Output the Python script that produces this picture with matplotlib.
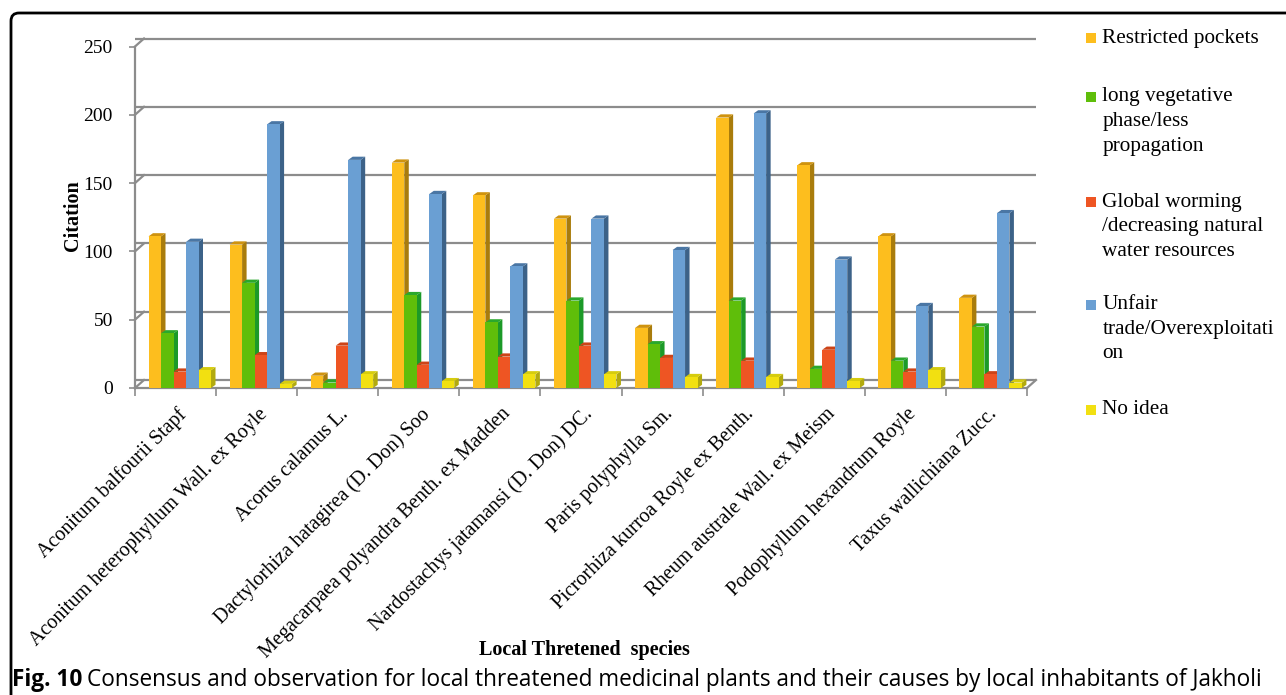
import matplotlib
matplotlib.use("Agg")
import matplotlib.pyplot as plt
from matplotlib.patches import Polygon, Rectangle, PathPatch
from matplotlib.path import Path

# ---- data -------------------------------------------------------------
species = [
    "Aconitum balfourii Stapf",
    "Aconitum heterophyllum Wall. ex Royle",
    "Acorus calamus L.",
    "Dactylorhiza hatagirea (D. Don) Soo",
    "Megacarpaea polyandra Benth. ex Madden",
    "Nardostachys jatamansi (D. Don) DC.",
    "Paris polyphylla Sm.",
    "Picrorhiza kurroa Royle ex Benth.",
    "Rheum australe Wall. ex Meism",
    "Podophyllum hexandrum Royle",
    "Taxus wallichiana Zucc.",
]

restricted_pockets = [111, 105, 9, 165, 141, 124, 44, 198, 163, 111, 66]
long_vegetative = [40, 77, 4, 68, 48, 64, 32, 64, 14, 20, 45]
global_warming = [12, 24, 31, 17, 23, 31, 22, 20, 28, 12, 10]
unfair_trade = [107, 193, 167, 142, 89, 124, 101, 201, 94, 60, 128]
no_idea = [13, 3, 10, 5, 10, 10, 8, 8, 5, 13, 4]

legend_lines = [
    ["Restricted pockets"],
    ["long vegetative", "phase/less", "propagation"],
    ["Global worming", "/decreasing natural", "water resources"],
    ["Unfair", "trade/Overexploitati", "on"],
    ["No idea"],
]

y_ticks = [0, 50, 100, 150, 200, 250]

# ---- styling ------------------------------------------------------------
front_colors = ["#FDBE1E", "#5FBE0A", "#EE5523", "#6A9FD3", "#F2E011"]
side_colors = ["#A97C0C", "#1C9A28", "#AE3A18", "#3C6288", "#B2AA0E"]
cap_colors = ["#CF930F", "#2AA82C", "#CC4418", "#4A76A4", "#D6CC0E"]
grid_color = "#8C8C8C"
serif = "Liberation Serif"

W, H = 1286, 695
fig = plt.figure(figsize=(W / 100, H / 100), dpi=100)


def fx(px):
    return px / W


def fy(py):
    return 1 - py / H


# plot box: front floor from x=135..1027 px, value 0 at y=388 px, 250 at 46.5 px
x0, x1, y0, y1 = 135, 1027, 388, 46.5
ax = fig.add_axes([fx(x0), fy(y0), (x1 - x0) / W, (y0 - y1) / H])
ax.set_xlim(0, len(species))
ax.set_ylim(0, 250)

px_per_x = (x1 - x0) / len(species)
px_per_y = (y0 - y1) / 250.0

# back wall / floor depth offset
back_dx = 9 / px_per_x
back_dy = 8 / px_per_y
n = len(species)
for v in y_ticks:
    ax.plot([0, n + back_dx], [v + back_dy, v + back_dy], color=grid_color,
            lw=1.6, clip_on=False, zorder=1, solid_capstyle="butt")
    ax.plot([0, back_dx], [v, v + back_dy], color=grid_color, lw=1.6,
            clip_on=False, zorder=1)
ax.plot([n, n + back_dx], [0, back_dy], color=grid_color, lw=1.6,
        clip_on=False, zorder=1)

for s in ("top", "right"):
    ax.spines[s].set_visible(False)
for s in ("left", "bottom"):
    ax.spines[s].set_color(grid_color)
    ax.spines[s].set_linewidth(1.6)
ax.patch.set_alpha(0)

ax.set_yticks(y_ticks)
ax.set_yticklabels([str(v) for v in y_ticks], fontfamily=serif, fontsize=14)
ax.tick_params(axis="y", color=grid_color, length=4, width=1.2, pad=12)
ax.set_xticks(range(n + 1))
ax.set_xticklabels([])
ax.tick_params(axis="x", color=grid_color, length=6, width=1.2)

# ---- pseudo-3D clustered bars ------------------------------------------
series = [restricted_pockets, long_vegetative, global_warming, unfair_trade, no_idea]
bar_w = 12.5 / px_per_x
start = 13.5 / px_per_x
dx = 4.5 / px_per_x
dy = 3.2 / px_per_y

for j, vals in enumerate(series):
    xs = [i + start + j * bar_w for i in range(n)]
    z = 3 + j * 0.1
    ax.bar(xs, vals, width=bar_w, align="edge", color=front_colors[j],
           linewidth=0, zorder=z + 0.05)
    for x, v in zip(xs, vals):
        side = [(x + bar_w, 0), (x + bar_w + dx, dy), (x + bar_w + dx, v + dy), (x + bar_w, v)]
        cap = [(x, v), (x + bar_w, v), (x + bar_w + dx, v + dy), (x + dx, v + dy)]
        ax.add_patch(Polygon(side, closed=True, facecolor=side_colors[j],
                             edgecolor="none", zorder=z))
        ax.add_patch(Polygon(cap, closed=True, facecolor=cap_colors[j],
                             edgecolor="none", zorder=z + 0.02))

# category labels
for i, name in enumerate(species):
    ax.annotate(name, xy=(i + 0.5, 0), xytext=(1, -12), textcoords="offset points",
                rotation=45, rotation_mode="anchor", ha="right", va="top",
                fontfamily=serif, fontsize=14.5, annotation_clip=False)

# axis titles
fig.text(fx(73), fy(216), "Citation", rotation=90, ha="center", va="center",
         fontfamily=serif, fontweight="bold", fontsize=14.5)
fig.text(fx(584.5), fy(650), "Local Thretened  species", ha="center", va="center",
         fontfamily=serif, fontweight="bold", fontsize=14.5)

# ---- legend -------------------------------------------------------------
legend_y = [38, 97, 202, 305, 410]
line_gap = 24.5
for j, (lines, ytop) in enumerate(zip(legend_lines, legend_y)):
    fig.patches.append(Rectangle((fx(1086), fy(ytop + 5)), 10 / W, 10 / H,
                                 transform=fig.transFigure,
                                 facecolor=front_colors[j], edgecolor="none"))
    for k, line in enumerate(lines):
        fig.text(fx(1102.5), fy(ytop + k * line_gap), line, ha="left", va="center",
                 fontfamily=serif, fontsize=15.3)

# ---- frame and caption --------------------------------------------------
verts = [(11, 695), (11, 21), (11, 13), (19, 13), (1286, 13)]
codes = [Path.MOVETO, Path.LINETO, Path.CURVE3, Path.CURVE3, Path.LINETO]
frame = Path([(fx(a), fy(b)) for a, b in verts], codes)
fig.patches.append(PathPatch(frame, transform=fig.transFigure, facecolor="none",
                             edgecolor="black", lw=2))

cap_label = fig.text(fx(11.5), fy(686), "Fig. 10", ha="left", va="baseline",
                     fontfamily="Open Sans", fontweight="bold", fontsize=16.3)
renderer = fig.canvas.get_renderer()
label_end = cap_label.get_window_extent(renderer).x1
fig.text((label_end + 5) / W, fy(686),
         "Consensus and observation for local threatened medicinal plants and their "
         "causes by local inhabitants of Jakholi",
         ha="left", va="baseline", fontfamily="Open Sans", fontsize=16.3)

fig.savefig("out.png", dpi=100)
